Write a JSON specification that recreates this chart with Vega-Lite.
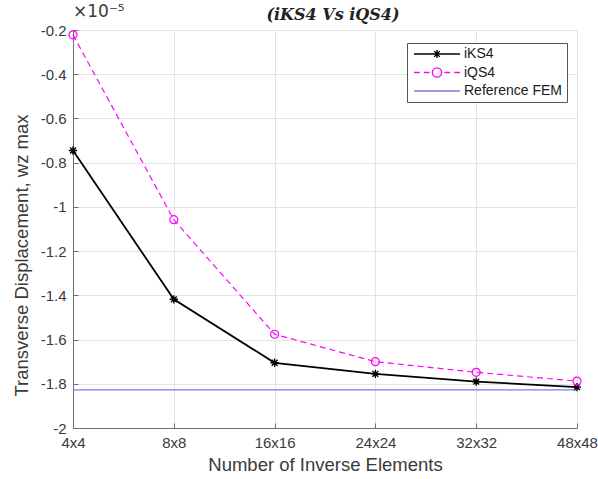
{
  "$schema": "https://vega.github.io/schema/vega-lite/v6.json",
  "width": 504,
  "height": 398,
  "autosize": "none",
  "padding": {"left": 73, "top": 30, "right": 21, "bottom": 51},
  "background": "white",
  "title": {"text": "(iKS4 Vs iQS4)", "font": "DejaVu Serif", "fontSize": 16, "fontStyle": "italic", "fontWeight": "bold", "color": "#222222", "anchor": "middle", "frame": "group", "offset": 4, "dx": 8, "dy": 24},
  "config": {
    "view": {"stroke": null},
    "font": "Liberation Sans",
    "axis": {"labelFont": "Liberation Sans", "titleFont": "Liberation Sans", "labelFontSize": 15, "titleFontSize": 18.5, "titleFontWeight": "normal", "labelColor": "#3a3a3a", "titleColor": "#3a3a3a", "domainColor": "#6e6e6e", "tickColor": "#6e6e6e", "gridColor": "#e4e4e4", "gridOpacity": 1, "tickSize": -5, "grid": true}
  },
  "data": {"values": [
    {"n": "4x4", "series": "iKS4", "value": -0.745},
    {"n": "8x8", "series": "iKS4", "value": -1.418},
    {"n": "16x16", "series": "iKS4", "value": -1.705},
    {"n": "24x24", "series": "iKS4", "value": -1.755},
    {"n": "32x32", "series": "iKS4", "value": -1.79},
    {"n": "48x48", "series": "iKS4", "value": -1.815},
    {"n": "4x4", "series": "iQS4", "value": -0.222},
    {"n": "8x8", "series": "iQS4", "value": -1.058},
    {"n": "16x16", "series": "iQS4", "value": -1.576},
    {"n": "24x24", "series": "iQS4", "value": -1.7},
    {"n": "32x32", "series": "iQS4", "value": -1.748},
    {"n": "48x48", "series": "iQS4", "value": -1.788},
    {"n": "4x4", "series": "Reference FEM", "value": -1.828},
    {"n": "8x8", "series": "Reference FEM", "value": -1.828},
    {"n": "16x16", "series": "Reference FEM", "value": -1.828},
    {"n": "24x24", "series": "Reference FEM", "value": -1.828},
    {"n": "32x32", "series": "Reference FEM", "value": -1.828},
    {"n": "48x48", "series": "Reference FEM", "value": -1.828}
  ]},
  "layer": [
    {
      "encoding": {
        "x": {"field": "n", "type": "ordinal", "scale": {"type": "point", "padding": 0, "domain": ["4x4", "8x8", "16x16", "24x24", "32x32", "48x48"]},
          "axis": {"title": "Number of Inverse Elements", "labelAngle": 0, "labelPadding": 12, "labelFlush": false, "titleY": 42, "titleBaseline": "alphabetic"}},
        "y": {"field": "value", "type": "quantitative", "scale": {"domain": [-2, -0.2], "nice": false, "zero": false},
          "axis": {"title": "Transverse Displacement, wz max", "values": [-2, -1.8, -1.6, -1.4, -1.2, -1, -0.8, -0.6, -0.4, -0.2], "labelExpr": "'' + datum.value", "labelPadding": 12, "titleX": -46, "titleY": 225, "titleAlign": "center", "titleBaseline": "alphabetic", "titleAngle": 270}}
      },
      "layer": [
        {
          "transform": [{"filter": "datum.series === 'Reference FEM'"}],
          "mark": {"type": "line", "strokeWidth": 1.3},
          "encoding": {
            "color": {"field": "series", "type": "nominal", "scale": {"domain": ["iKS4", "iQS4", "Reference FEM"], "range": ["#000000", "#ff00ff", "#7b7bea"]},
              "legend": {"title": null, "orient": "none", "legendX": 334, "legendY": 13, "padding": 4, "rowPadding": 3.5, "fillColor": "white", "strokeColor": "#555555",
                "labelFont": "Liberation Sans", "labelFontSize": 14, "labelColor": "#1a1a1a", "symbolSize": 132, "symbolOffset": 19, "labelOffset": 20, "symbolStrokeWidth": 1.4}
            }
          }
        },
        {
          "transform": [{"filter": "datum.series === 'iQS4'"}],
          "mark": {"type": "line", "strokeWidth": 1.2, "strokeDash": [6, 4]},
          "encoding": {"color": {"field": "series", "type": "nominal"}}
        },
        {
          "transform": [{"filter": "datum.series === 'iKS4'"}],
          "mark": {"type": "line", "strokeWidth": 1.8},
          "encoding": {"color": {"field": "series", "type": "nominal"}}
        },
        {
          "transform": [{"filter": "datum.series === 'iKS4'"}],
          "mark": {"type": "point", "filled": false, "size": 70, "strokeWidth": 1.4, "opacity": 1, "shape": "M-1,0L1,0M0,-1L0,1M-0.7,-0.7L0.7,0.7M-0.7,0.7L0.7,-0.7"},
          "encoding": {"color": {"field": "series", "type": "nominal"}}
        },
        {
          "transform": [{"filter": "datum.series === 'iQS4'"}],
          "mark": {"type": "point", "filled": false, "size": 64, "strokeWidth": 1.2, "opacity": 1, "shape": "circle"},
          "encoding": {"color": {"field": "series", "type": "nominal"}}
        },
        {
          "transform": [{"filter": "false"}],
          "mark": {"type": "point", "filled": false, "opacity": 1},
          "encoding": {
            "color": {"field": "series", "type": "nominal"},
            "shape": {"field": "series", "type": "nominal", "scale": {"domain": ["iKS4", "iQS4", "Reference FEM"], "range": [
              "M-4,0L4,0M0,-0.7L0,0.7M-0.5,-0.5L0.5,0.5M-0.5,0.5L0.5,-0.5",
              "M-4,0L-3,0M-2.3,0L-1.3,0M1.3,0L2.3,0M3,0L4,0M0.8,0C0.8,0.442,0.442,0.8,0,0.8C-0.442,0.8,-0.8,0.442,-0.8,0C-0.8,-0.442,-0.442,-0.8,0,-0.8C0.442,-0.8,0.8,-0.442,0.8,0Z",
              "M-4,0L4,0"]}}
          }
        }
      ]
    },
    {
      "data": {"values": [{"t": "×10⁻⁵"}]},
      "mark": {"type": "text", "align": "left", "baseline": "alphabetic", "dy": -13, "fontSize": 17, "font": "DejaVu Sans", "fill": "#3a3a3a"},
      "encoding": {"x": {"datum": "4x4"}, "y": {"datum": -0.2}, "text": {"field": "t", "type": "nominal"}}
    }
  ]
}
